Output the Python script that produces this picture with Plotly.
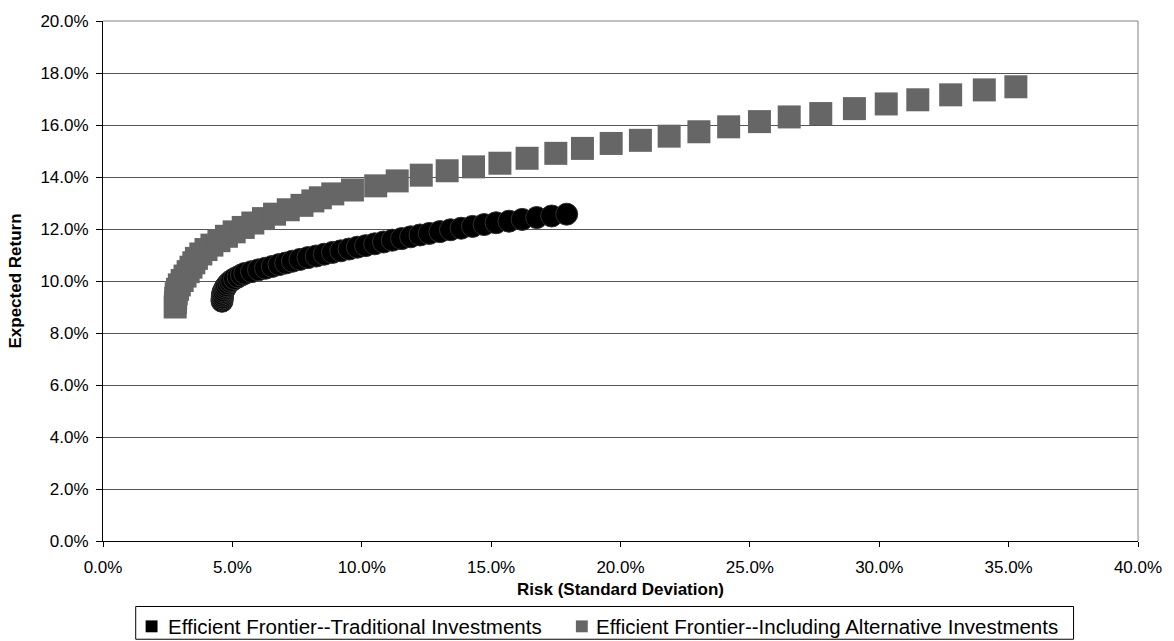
import plotly.graph_objects as go

# Efficient frontier -- traditional investments (risk %, expected return %)
trad_risk = [4.60, 4.60, 4.61, 4.61, 4.62, 4.64, 4.66, 4.70, 4.73, 4.77,
             4.83, 4.90, 4.97, 5.08, 5.22, 5.35, 5.48, 5.74, 6.01, 6.28,
             6.54, 6.80, 7.06, 7.32, 7.61, 7.92, 8.24, 8.55, 8.87, 9.19,
             9.51, 9.83, 10.15, 10.50, 10.84, 11.18, 11.54, 11.89, 12.25, 12.61,
             13.02, 13.43, 13.84, 14.28, 14.73, 15.19, 15.69, 16.20, 16.76, 17.34,
             17.92]
trad_return = [9.22, 9.29, 9.35, 9.42, 9.49, 9.56, 9.62, 9.69, 9.76, 9.82,
               9.89, 9.96, 10.02, 10.09, 10.16, 10.23, 10.29, 10.36, 10.43, 10.49,
               10.56, 10.63, 10.69, 10.76, 10.83, 10.90, 10.96, 11.03, 11.10, 11.16,
               11.23, 11.30, 11.36, 11.43, 11.50, 11.57, 11.63, 11.70, 11.77, 11.83,
               11.90, 11.97, 12.03, 12.10, 12.17, 12.24, 12.30, 12.37, 12.44, 12.50,
               12.57]

# Efficient frontier -- including alternative investments
alt_risk = [2.79, 2.80, 2.81, 2.83, 2.88, 2.95, 3.06, 3.17, 3.29, 3.40,
            3.51, 3.61, 3.78, 3.98, 4.21, 4.48, 4.77, 5.07, 5.42, 5.79,
            6.20, 6.63, 7.16, 7.69, 8.11, 8.40, 8.88, 9.64, 10.54, 11.37,
            12.30, 13.30, 14.32, 15.34, 16.39, 17.50, 18.53, 19.64, 20.77, 21.88,
            23.03, 24.18, 25.37, 26.52, 27.74, 29.04, 30.27, 31.49, 32.76, 34.06,
            35.28]
alt_return = [9.00, 9.17, 9.34, 9.51, 9.68, 9.85, 10.02, 10.19, 10.36, 10.53,
              10.70, 10.87, 11.04, 11.21, 11.38, 11.55, 11.72, 11.89, 12.06, 12.23,
              12.40, 12.57, 12.74, 12.91, 13.08, 13.20, 13.35, 13.50, 13.66, 13.85,
              14.07, 14.24, 14.39, 14.53, 14.72, 14.91, 15.10, 15.29, 15.41, 15.57,
              15.74, 15.93, 16.13, 16.31, 16.44, 16.63, 16.81, 16.97, 17.16, 17.35,
              17.47]

series_names = ["Efficient Frontier--Traditional Investments",
                "Efficient Frontier--Including Alternative Investments"]
series_colors = ["#000000", "#666666"]

FONT = "Liberation Sans, Arial, Helvetica, sans-serif"

# plot-area geometry in pixels, used to place the legend box below the axis
W, H = 1174, 641
ML, MR, MT, MB = 103, 27, 17, 100
PW, PH = W - ML - MR, H - MT - MB


def px_x(px):
    return (px - ML) / PW


def px_y(py):
    return (H - MB - py) / PH


fig = go.Figure()

fig.add_trace(go.Scatter(
    x=alt_risk, y=alt_return, mode="markers", name=series_names[1],
    showlegend=False,
    marker=dict(symbol="square", size=23, color=series_colors[1], line=dict(width=0)),
))
fig.add_trace(go.Scatter(
    x=trad_risk, y=trad_return, mode="markers", name=series_names[0],
    showlegend=False,
    marker=dict(symbol="circle", size=22, color=series_colors[0],
                line=dict(width=1, color="#2e2e2e")),
))

# legend: framed box with square swatches
legend_top, legend_bottom = 607, 640
legend_mid = 627
swatch_left = [146, 580]
text_left = [167, 598]

shapes = [
    dict(type="rect", xref="paper", yref="paper",
         x0=px_x(136), x1=px_x(1082), y0=px_y(legend_bottom), y1=px_y(legend_top),
         line=dict(color="#000000", width=1), fillcolor="white", layer="above"),
    # right and top frame of the plot area
    dict(type="line", xref="paper", yref="paper", x0=1, x1=1, y0=0, y1=1,
         line=dict(color="#808080", width=1)),
    dict(type="line", xref="paper", yref="paper", x0=0, x1=1, y0=1, y1=1,
         line=dict(color="#808080", width=1)),
]
annotations = []
for name, color, sx, tx in zip(series_names, series_colors, swatch_left, text_left):
    shapes.append(dict(type="rect", xref="paper", yref="paper",
                       x0=px_x(sx), x1=px_x(sx + 12),
                       y0=px_y(legend_mid + 6), y1=px_y(legend_mid - 6),
                       line=dict(width=0), fillcolor=color, layer="above"))
    annotations.append(dict(text=name, xref="paper", yref="paper",
                            x=px_x(tx), y=px_y(legend_mid),
                            xanchor="left", yanchor="middle", showarrow=False,
                            font=dict(family=FONT, size=20.5, color="#000000")))

fig.update_layout(
    width=W, height=H,
    margin=dict(l=ML, r=MR, t=MT, b=MB),
    paper_bgcolor="white", plot_bgcolor="white",
    font=dict(family=FONT, size=17, color="#000000"),
    showlegend=False,
    xaxis=dict(
        range=[0, 40], dtick=5, tick0=0,
        tickformat=".1f", ticksuffix="%",
        showgrid=False, zeroline=False,
        showline=True, linecolor="#000000", linewidth=1,
        ticks="outside", ticklen=5, tickcolor="#000000",
        ticklabelstandoff=6,
        title=dict(text="<b>Risk (Standard Deviation)</b>", standoff=6,
                   font=dict(family=FONT, size=17)),
    ),
    yaxis=dict(
        range=[0, 20], dtick=2, tick0=0,
        tickformat=".1f", ticksuffix="%",
        showgrid=True, gridcolor="#555555", gridwidth=1,
        zeroline=False,
        showline=True, linecolor="#000000", linewidth=1,
        ticks="outside", ticklen=6, tickcolor="#000000",
        ticklabelstandoff=4,
        title=dict(text="<b>Expected Return</b>", standoff=14,
                   font=dict(family=FONT, size=17)),
    ),
    shapes=shapes,
    annotations=annotations,
)

fig.write_html("out.html")
